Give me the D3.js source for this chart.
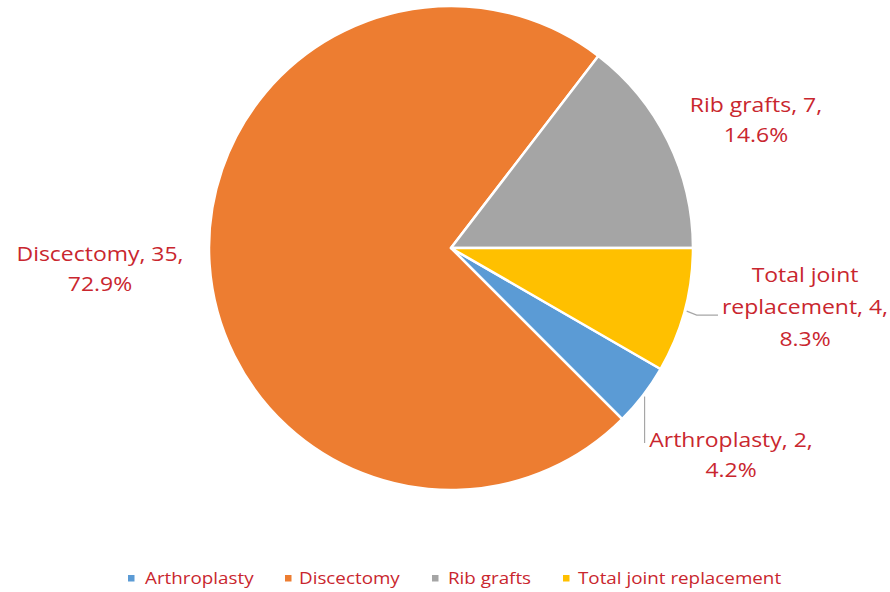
<!DOCTYPE html>
<html>
<head>
<meta charset="utf-8">
<script src="https://cdn.jsdelivr.net/npm/d3@7/dist/d3.min.js"></script>
<style>
  html, body { margin: 0; padding: 0; background: #fff; }
  svg { display: block; font-family: "Open Sans", Lato, sans-serif; }
</style>
</head>
<body>
<svg id="chart" width="890" height="592"></svg>
<script>
// Procedure counts
const categories = ["Arthroplasty", "Discectomy", "Rib grafts", "Total joint replacement"];
const counts = [2, 35, 7, 4];
const percents = ["4.2%", "72.9%", "14.6%", "8.3%"];
const colors = ["#5B9BD5", "#ED7D31", "#A5A5A5", "#FFC000"];
// Data label lines (each label wraps onto several rows)
const labelLines = [
  ["Arthroplasty, 2,", "4.2%"],
  ["Discectomy, 35,", "72.9%"],
  ["Rib grafts, 7,", "14.6%"],
  ["Total joint", "replacement, 4,", "8.3%"]
];

const textColor = "#C9262E";
const svg = d3.select("#chart");
const cx = 451, cy = 248, R = 242;

const startAngle = (120 / 180) * Math.PI;
const pie = d3.pie().value(d => d).sort(null)
  .startAngle(startAngle).endAngle(startAngle + 2 * Math.PI);
const arcs = pie(counts);
const arc = d3.arc().innerRadius(0).outerRadius(R);

const g = svg.append("g").attr("transform", `translate(${cx},${cy})`);
g.selectAll("path.slice").data(arcs).join("path")
  .attr("class", "slice")
  .attr("d", arc)
  .attr("fill", (d, i) => colors[i])
  .attr("stroke", "#fff")
  .attr("stroke-width", 2.5)
  .attr("stroke-linejoin", "round");

// Label placement (centre x, first baseline)
const labelPos = [
  { x: 731, y: 447 },
  { x: 100, y: 261 },
  { x: 756, y: 112 },
  { x: 805, y: 282 }
];
const lineH = [30, 30, 30, 32];
const labelStretch = 1.12;

labelLines.forEach((lines, i) => {
  const t = svg.append("text")
    .attr("transform", `translate(${labelPos[i].x},0) scale(${labelStretch},1)`)
    .attr("text-anchor", "middle")
    .attr("fill", textColor)
    .style("font-size", "20.5px");
  lines.forEach((s, k) => {
    t.append("tspan")
      .attr("x", 0)
      .attr("y", labelPos[i].y + k * lineH[i])
      .text(s);
  });
});

// Leader lines for the small slices
const leaderColor = "#A6A6A6";
const polar = (a, r) => [cx + r * Math.sin(a), cy - r * Math.cos(a)];
const tjMid = (arcs[3].startAngle + arcs[3].endAngle) / 2;
const p0 = polar(tjMid, R + 2);
svg.append("path")
  .attr("d", `M${p0[0]},${p0[1]} L${p0[0] + 10},${p0[1] + 4} L718,${p0[1] + 4}`)
  .attr("fill", "none").attr("stroke", leaderColor).attr("stroke-width", 1.2);
const arMid = (arcs[0].startAngle + arcs[0].endAngle) / 2;
const p1 = polar(arMid, R + 2);
svg.append("path")
  .attr("d", `M${p1[0]},${p1[1]} L${p1[0]},443`)
  .attr("fill", "none").attr("stroke", leaderColor).attr("stroke-width", 1.2);

// Legend
const legendX = [128, 285, 432, 563];
const legendTextX = [145, 299, 448, 578];
const legendStretch = 1.14;
const legend = svg.append("g");
categories.forEach((c, i) => {
  legend.append("rect")
    .attr("x", legendX[i]).attr("y", 575)
    .attr("width", 6.5).attr("height", 6.5)
    .attr("fill", colors[i]);
  legend.append("text")
    .attr("transform", `translate(${legendTextX[i]},584) scale(${legendStretch},1)`)
    .attr("fill", textColor)
    .style("font-size", "16.5px")
    .text(c);
});
</script>
</body>
</html>
